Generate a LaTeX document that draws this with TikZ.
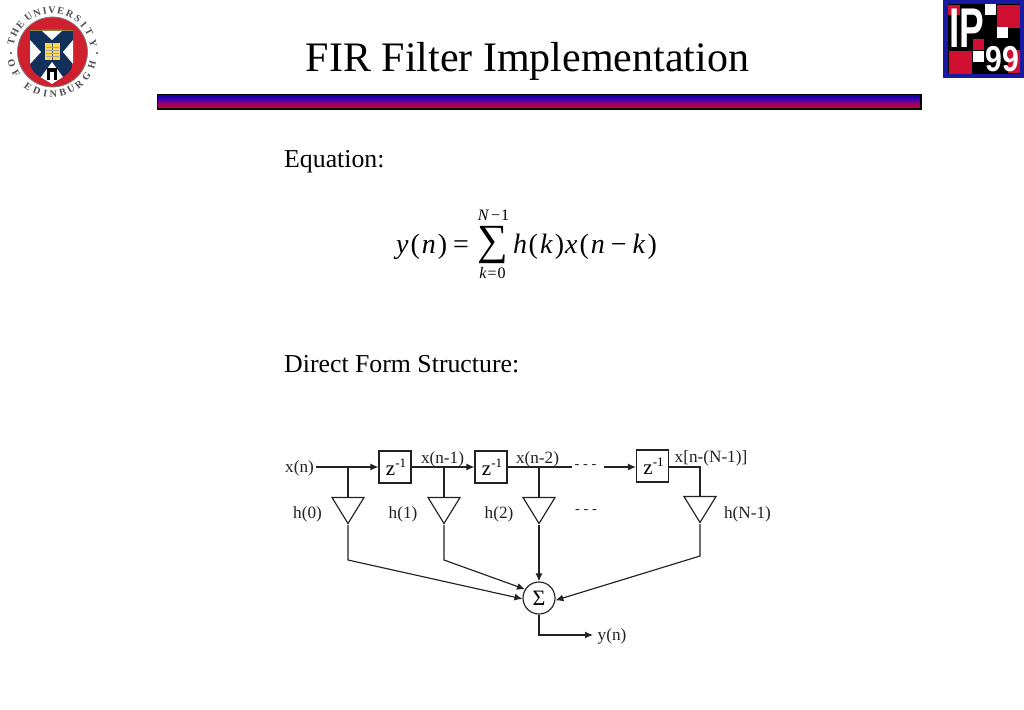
\documentclass[tikz,border=0pt]{standalone}
\usepackage{fontspec}
\usepackage{graphicx}
\setmainfont{Liberation Serif}
\newfontfamily\logosans{Liberation Sans}
\usetikzlibrary{arrows.meta,shapes.geometric,calc}
\definecolor{navy}{HTML}{12305A}
\definecolor{crestred}{HTML}{D0202E}
\definecolor{logoblue}{HTML}{1A1AA0}
\definecolor{logored}{HTML}{D01030}
\definecolor{inkgray}{HTML}{222222}
\tikzset{
  wire/.style={draw=inkgray,line width=1.15pt},
  arrowwire/.style={wire,-{Latex[length=8pt,width=7pt]}},
  delaybox/.style={draw=inkgray,line width=1.15pt,minimum width=32pt,minimum height=32pt,inner sep=0pt,font=\fontsize{21}{21}\selectfont},
  gain/.style={draw=inkgray,line width=1.15pt,isosceles triangle,isosceles triangle stretches,shape border rotate=270,minimum width=32pt,minimum height=26pt,inner sep=0pt,anchor=apex},
  sumnode/.style={circle,draw=inkgray,line width=1.15pt,minimum size=32pt,inner sep=0pt,font=\fontsize{22}{22}\selectfont},
  lab/.style={inner sep=0pt,font=\fontsize{17.2}{18}\selectfont,text=inkgray},
  dotslab/.style={inner sep=0pt,font=\fontsize{14.5}{15}\selectfont,text=inkgray},
  heading/.style={inner sep=0pt,anchor=base west,font=\fontsize{25.8}{26}\selectfont},
  eq/.style={inner sep=0pt,anchor=base west,font=\fontsize{28}{28}\selectfont},
  eqsmall/.style={inner sep=0pt,anchor=base,font=\fontsize{16}{16}\selectfont},
  ringch/.style={inner sep=0pt,font=\fontsize{10}{10}\selectfont\bfseries,text=black!70},
}
\newcommand{\zinv}{\kern2ptz\raisebox{8pt}{\fontsize{13}{13}\selectfont -1}}
\begin{document}
\begin{tikzpicture}[x=1pt,y=-1pt]
\path[use as bounding box,fill=white] (0,0) rectangle (1024,709);

% --- title and bar
\node[inner sep=0pt,anchor=base,font=\fontsize{42}{42}\selectfont] (title) at (527.5,71) {FIR Filter Implementation};
\shade[top color=blue!75!black,bottom color=red!90!black,middle color=red!45!blue] (157.5,94.5) rectangle (921,109);
\draw[black,line width=1.1pt] (157.5,94.5) rectangle (921,109);

% --- University crest
\fill[crestred] (52.5,52) circle (35);
\draw[black!50,line width=.8pt] (52.5,52) circle (35);
\begin{scope}
  \path[clip] (30,30) -- (73,30) -- (73,62) .. controls (73,74) and (60,78) .. (52,84) .. controls (43,78) and (30,74) .. (30,62) -- cycle;
  \fill[navy] (30,30) rectangle (73,84);
  \fill[white] (41,30) -- (63,30) -- (52,40) -- cycle;
  \fill[white] (30,40) -- (41,52) -- (30,64) -- cycle;
  \fill[white] (73,40) -- (63,52) -- (73,64) -- cycle;
  \fill[white] (52,62) -- (68,84) -- (36,84) -- cycle;
  \fill[black] (47,68) rectangle (57,80);
  \fill[white] (50,72) rectangle (54,80);
\end{scope}
\fill[yellow!60!orange!70!white] (45,43) rectangle (60,60);
\draw[black!60,line width=.6pt] (52.5,43) -- (52.5,60);
\foreach \yy in {47,50,53,56}{
  \draw[black!35,line width=.4pt] (46,\yy) -- (59,\yy);
}
\draw[yellow!50!black,line width=.8pt] (30,30) -- (73,30);
\foreach \ch/\a in {T/166,H/152,E/139,U/124,N/111,I/100,V/90,E/78,R/65,S/52,I/41,T/28,Y/12}{
  \node[ringch,rotate=\a-90] at ({52+42*cos(\a)},{52-42*sin(\a)}) {\ch};
}
\foreach \ch/\a in {O/196,F/211,E/235,D/249,I/261,N/272,B/285,U/297,R/310,G/325,H/342}{
  \node[ringch,rotate=\a+90] at ({52+42*cos(\a)},{52-42*sin(\a)}) {\ch};
}
\fill[black!70] (11,53) circle (1.1);
\fill[black!70] (97,53) circle (1.1);

% --- IP99 logo
\fill[logoblue] (943,0) rectangle (1024,78);
\fill[black] (948,4) rectangle (1020,74);
\fill[logored] (948,5) rectangle (960,15);
\fill[white] (985,4) rectangle (996,15);
\fill[logored] (997,5) rectangle (1020,28);
\fill[white] (997,27) rectangle (1008,38);
\fill[logored] (973,39) rectangle (984,50);
\fill[white] (973,51) rectangle (984,62);
\fill[logored] (949,51) rectangle (972,74);
\fill[logored] (1008,50) rectangle (1020,73);
\node[inner sep=0pt,anchor=base west,text=white,font=\logosans\bfseries\fontsize{56}{56}\selectfont] (ip) at (949,48) {\scalebox{.66}[1]{IP}};
\node[inner sep=0pt,anchor=base west,text=white,font=\logosans\bfseries\fontsize{36}{36}\selectfont] (nn) at (985,71) {\scalebox{.84}[1]{99}};

% --- headings
\node[heading] (h1) at (284,167) {Equation:};
\node[heading] (h2) at (284,372) {Direct Form Structure:};

% --- equation
\node[eq] (e1) at (396,253) {\textit{y}\kern2pt(\kern2pt\textit{n}\kern2pt)};
\node[eq] (e2) at (453,253) {=};
\node[inner sep=0pt,anchor=base,font=\fontsize{43}{43}\selectfont] (sg) at (492.5,254) {∑};
\node[eqsmall] (e3) at (493.5,220) {\textit{N}\kern2pt−\kern1pt1};
\node[eqsmall] (e4) at (492.5,278) {\textit{k}\kern1pt=\kern1pt0};
\node[eq] (e5) at (513,253) {\textit{h}\kern1.5pt(\kern2pt\textit{k}\kern2pt)\kern1pt\textit{x}\kern2pt(\kern2pt\textit{n}\kern6pt−\kern6pt\textit{k}\kern2pt)};

% --- structure: delays
\node[delaybox] (z1) at (395,467) {\zinv};
\node[delaybox] (z2) at (491,467) {\zinv};
\node[delaybox] (z3) at (652.5,466) {\zinv};
% gains
\node[gain] (g0) at (348,525) {};
\node[gain] (g1) at (444,525) {};
\node[gain] (g2) at (539,525) {};
\node[gain] (g3) at (700,524) {};
% sum
\node[sumnode] (sum) at (539,598) {Σ};
% free points
\coordinate (in) at (316,467);
\coordinate (t0) at (348,467);
\coordinate (t1) at (444,467);
\coordinate (t2) at (539,467);
\coordinate (b0) at (348,560);
\coordinate (b1) at (444,560);
\coordinate (b3) at (700,556);
\coordinate (gapA) at (572,467);
\coordinate (gapB) at (604,467);
\coordinate (corner) at (700,467);
\coordinate (outc) at (539,635);
\coordinate (out) at (593,635);

\draw[arrowwire] (in) -- (z1.west);
\draw[arrowwire] (z1.east) -- (z2.west);
\draw[wire] (z2.east) -- (gapA);
\draw[arrowwire] (gapB) -- (z3.west |- gapB);
\draw[wire] (z3.east |- corner) -- (corner) -- (g3.lower side);
\draw[wire] (t0) -- (g0.lower side);
\draw[wire] (t1) -- (g1.lower side);
\draw[wire] (t2) -- (g2.lower side);
\draw[arrowwire] (g0.apex) -- (b0) -- (sum.183);
\draw[arrowwire] (g1.apex) -- (b1) -- (sum.148);
\draw[arrowwire] (g2.apex) -- (sum.north);
\draw[arrowwire] (g3.apex) -- (b3) -- (sum.352);
\draw[arrowwire] (sum.south) -- (outc) -- (out);

% --- labels
\node[lab] (lx) at (299.5,468) {x(n)};
\node[lab] (lx1) at (442.5,459) {x(n-1)};
\node[lab] (lx2) at (537.5,459) {x(n-2)};
\node[lab] (lxn) at (711,458.5) {x[n-(N-1)]};
\node[lab] (lh0) at (307.5,514) {h(0)};
\node[lab] (lh1) at (403,514) {h(1)};
\node[lab] (lh2) at (499,514) {h(2)};
\node[lab] (lh3) at (747.5,514) {h(N-1)};
\node[lab] (ly) at (612,636) {y(n)};
\node[dotslab] (d1) at (585.5,467) {- - -};
\node[dotslab] (d2) at (586,512) {- - -};
\end{tikzpicture}
\end{document}
